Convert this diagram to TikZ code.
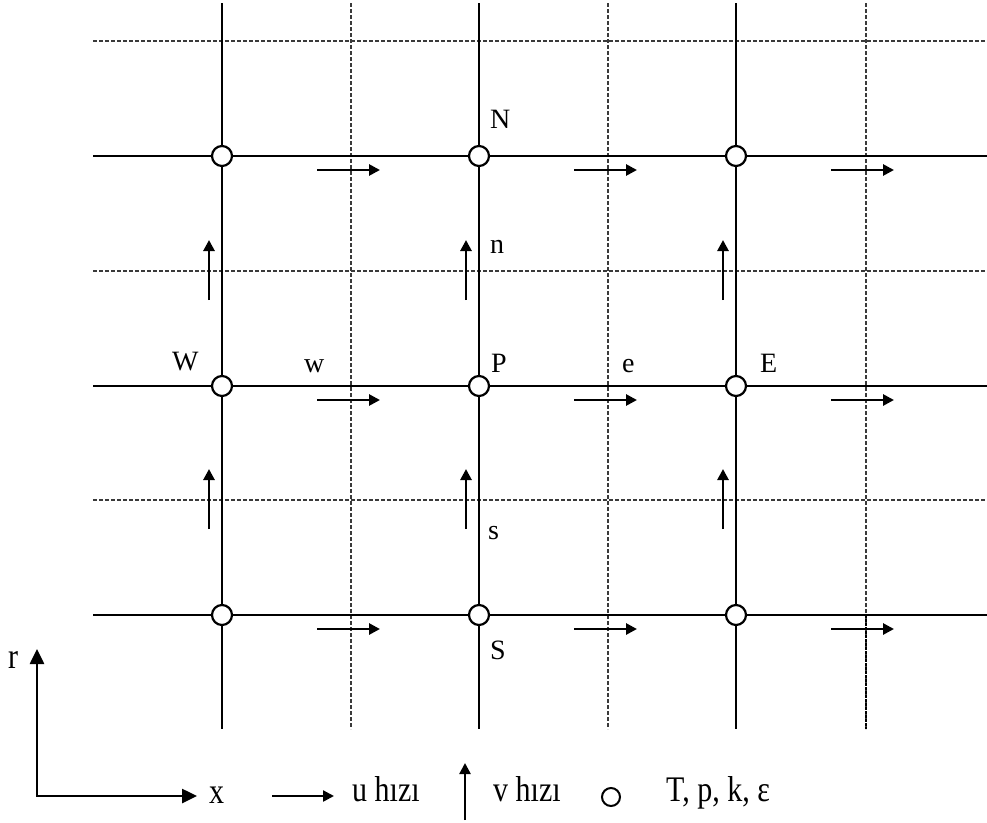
\documentclass[tikz,border=0pt]{standalone}
\usepackage{fontspec}
\setmainfont{Liberation Serif}
\usetikzlibrary{arrows.meta}
\definecolor{halfgray}{HTML}{3A3A3A}

\begin{document}
\begin{tikzpicture}[x=1pt,y=-1pt,
  gridline/.style={line width=2.3pt},
  halfline/.style={halfgray,line width=1.1pt,dash pattern=on 4pt off 2pt},
  vel/.style={line width=2.7pt,-{Triangle[length=11pt,width=11pt]}},
  axisline/.style={line width=2.6pt,{Triangle[length=15pt,width=14pt]}-{Triangle[length=15pt,width=14pt]}},
  nodept/.style={circle,draw,line width=2.2pt,fill=white,minimum size=20pt,inner sep=0pt},
  lbl/.style={font=\fontsize{28}{30}\selectfont,inner sep=0pt,anchor=base west},
  legend/.style={font=\fontsize{30}{32}\selectfont,inner sep=0pt,anchor=base west}]
  \useasboundingbox (0,0) rectangle (987,822);
  % staggered grid: main lines and cell faces
  \foreach \y in {41,271,500}
    \draw[halfline] (93,\y) -- (987,\y);
  \foreach \x in {351,608,866}
    \draw[halfline] (\x,3) -- (\x,729);
  \draw[line width=2.4pt,dash pattern=on 2.5pt off 1.5pt] (866,615) -- (866,729);
  \foreach \y in {156,386,615}
    \draw[gridline] (93,\y) -- (987,\y);
  \foreach \x in {222,479,736}
    \draw[gridline] (\x,3) -- (\x,729);
  % u and v velocities
  \foreach \x in {222,479,736} {
    \foreach \y in {156,386,615}
      \draw[vel] (\x+95,\y+14) -- (\x+158,\y+14);
    \foreach \y in {271,500}
      \draw[vel] (\x-13,\y+29) -- (\x-13,\y-31);
  }
  % scalar points
  \foreach \i/\x in {1/222,2/479,3/736}
    \foreach \j/\y in {1/156,2/386,3/615}
      \node[nodept] (c\i\j) at (\x,\y) {};
  \node[lbl] (N) at (490,128) {N};
  \node[lbl] (n) at (490,253) {n};
  \node[lbl] (W) at (172,370) {W};
  \node[lbl] (w) at (304,372) {w};
  \node[lbl] (P) at (491,372) {P};
  \node[lbl] (e) at (622,372) {e};
  \node[lbl] (E) at (760,372) {E};
  \node[lbl] (s) at (488,539) {s};
  \node[lbl] (S) at (490,659) {S};
  % axes and legend
  \coordinate (rtip) at (37,649);
  \coordinate (xtip) at (197,796);
  \draw[axisline] (rtip) |- (xtip);
  \node[legend] (r) at (8,668) {\scalebox{1}[1.2]{r}};
  \node[legend] (x) at (209,803) {\scalebox{1}[1.2]{x}};
  \coordinate (u0) at (272,796);
  \coordinate (u1) at (334,796);
  \draw[vel,line width=2.4pt] (u0) -- (u1);
  \node[legend] (utxt) at (352,801) {\scalebox{1}[1.2]{u hızı}};
  \coordinate (v0) at (465,820);
  \coordinate (v1) at (465,763);
  \draw[vel,line width=2.4pt] (v0) -- (v1);
  \node[legend] (vtxt) at (493,801) {\scalebox{1}[1.2]{v hızı}};
  \node[nodept,line width=2pt,minimum size=18pt] (cleg) at (611,797) {};
  \node[legend] (scal) at (666,801) {\scalebox{1}[1.2]{T, p, k, ε}};
\end{tikzpicture}
\end{document}
